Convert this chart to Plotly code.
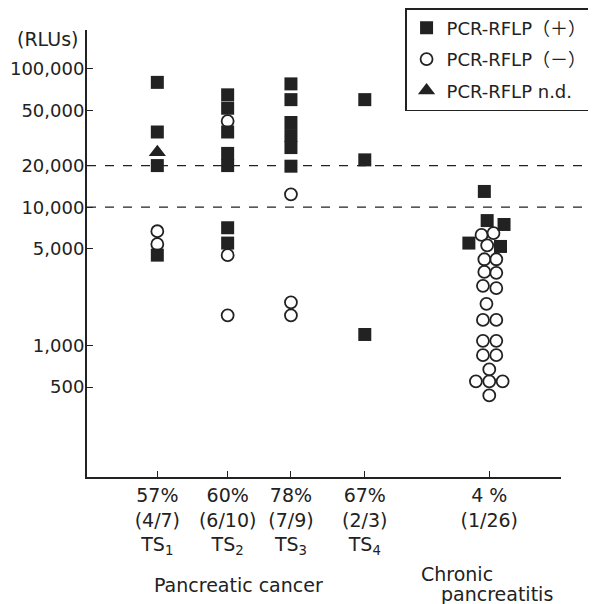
import plotly.graph_objects as go

FONT = "DejaVu Sans, Noto Sans CJK JP"
INK = "#222"

# ---- data ----
groups = ["TS1", "TS2", "TS3", "TS4", "CP"]
group_pos = [1.0, 2.0, 2.9, 3.95, 5.72]
tick_labels = [
    "57%<br>(4/7)<br>TS<sub>1</sub>",
    "60%<br>(6/10)<br>TS<sub>2</sub>",
    "78%<br>(7/9)<br>TS<sub>3</sub>",
    "67%<br>(2/3)<br>TS<sub>4</sub>",
    "4 %<br>(1/26)",
]

# PCR-RFLP (+)
pos_ts1 = [80000, 35000, 20000, 4500]
pos_ts2 = [65000, 52000, 35000, 24500, 20000, 7100, 5500]
pos_ts3 = [78000, 60000, 41000, 33000, 27000, 19800]
pos_ts4 = [60000, 22000, 1200]
pos_cp = [13000, 8000, 7500, 5500, 5200]
pos_cp_off = [-0.07, -0.03, 0.21, -0.29, 0.16]

# PCR-RFLP (-)
neg_ts1 = [6700, 5400]
neg_ts2 = [42000, 4500, 1650]
neg_ts3 = [12400, 2050, 1650]
neg_ts4 = []
neg_cp = [6300, 6500, 5300, 4200, 4200, 3400, 3350, 2700, 2600, 2000,
          1530, 1530, 1080, 1080, 850, 850, 670, 550, 550, 550, 435]
neg_cp_off = [-0.11, 0.06, -0.03, -0.07, 0.10, -0.07, 0.10, -0.09, 0.10, -0.04,
              -0.09, 0.10, -0.09, 0.10, -0.09, 0.10, 0.0, -0.19, 0.0, 0.19, 0.0]

# PCR-RFLP n.d.
nd_ts1 = [25000]

cutoffs = [20000, 10000]
ytick_vals = [500, 1000, 5000, 10000, 20000, 50000, 100000]
ytick_text = ["500", "1,000", "5,000", "10,000", "20,000", "50,000", "100,000"]


# ---- assemble ----
def col(vals, gi, offs=None):
    xs = [group_pos[gi] + (offs[i] if offs else 0) for i in range(len(vals))]
    return xs, list(vals)


def gather(sets):
    xs, ys = [], []
    for gi, (vals, offs) in enumerate(sets):
        a, b = col(vals, gi, offs)
        xs += a
        ys += b
    return xs, ys


px, py = gather([(pos_ts1, None), (pos_ts2, None), (pos_ts3, None),
                 (pos_ts4, None), (pos_cp, pos_cp_off)])
nx, ny = gather([(neg_ts1, None), (neg_ts2, None), (neg_ts3, None),
                 (neg_ts4, None), (neg_cp, neg_cp_off)])
dx, dy = col(nd_ts1, 0)

fig = go.Figure()
fig.add_trace(go.Scatter(x=px, y=py, mode="markers", name="PCR-RFLP（＋）",
                         legendgroup="pos",
                         marker=dict(symbol="square", size=13, color=INK,
                                     line=dict(width=0))))
fig.add_trace(go.Scatter(x=nx, y=ny, mode="markers", name="PCR-RFLP（－）",
                         legendgroup="neg",
                         marker=dict(symbol="circle-open", size=12, color=INK,
                                     line=dict(width=1.8))))
fig.add_trace(go.Scatter(x=dx, y=dy, mode="markers", name="PCR-RFLP n.d.",
                         legendgroup="nd",
                         marker=dict(symbol="triangle-up", size=15, color=INK,
                                     line=dict(width=0))))

for c in cutoffs:
    fig.add_shape(type="line", xref="paper", yref="y", x0=0, x1=1.05, y0=c, y1=c,
                  line=dict(color=INK, width=1.3, dash="dash"))

txt = dict(family=FONT, size=19, color=INK)
fig.add_annotation(text="(RLUs)", xref="paper", yref="paper", x=-0.015, y=0.980,
                   xanchor="right", yanchor="middle", showarrow=False, font=txt)
fig.add_annotation(text="Pancreatic cancer", xref="paper", yref="paper",
                   x=0.137, y=-0.242, xanchor="left", yanchor="middle",
                   showarrow=False, font=txt)
fig.add_annotation(text="Chronic", xref="paper", yref="paper",
                   x=0.700, y=-0.217, xanchor="left", yanchor="middle",
                   showarrow=False, font=txt)
fig.add_annotation(text="pancreatitis", xref="paper", yref="paper",
                   x=0.742, y=-0.262, xanchor="left", yanchor="middle",
                   showarrow=False, font=txt)

# The page adds an 8px body margin, so the figure is 8px smaller each way.
fig.update_layout(
    width=588, height=596,
    margin=dict(l=79, r=35, t=22, b=127, autoexpand=False),
    paper_bgcolor="white", plot_bgcolor="white",
    font=txt,
    showlegend=True,
    legend=dict(xref="container", yref="container", x=0.995, y=1.0,
                xanchor="right", yanchor="top",
                bordercolor=INK, borderwidth=1.5, bgcolor="white",
                font=dict(family=FONT, size=18, color=INK),
                itemwidth=30, tracegroupgap=5),
    xaxis=dict(range=[0, 6.74], tickmode="array", tickvals=group_pos,
               ticktext=tick_labels, ticks="inside", ticklen=6, tickcolor=INK,
               showline=True, linecolor=INK, linewidth=2, showgrid=False,
               zeroline=False, automargin=False, tickfont=txt),
    yaxis=dict(type="log", range=[2.048, 5.282], tickmode="array",
               tickvals=ytick_vals, ticktext=ytick_text, ticks="inside",
               ticklen=6, tickcolor=INK, showline=True, linecolor=INK,
               linewidth=2, showgrid=False, zeroline=False, automargin=False,
               ticklabelstandoff=-3,
               tickfont=dict(family=FONT, size=18, color=INK)),
)

fig.write_html("out.html")
